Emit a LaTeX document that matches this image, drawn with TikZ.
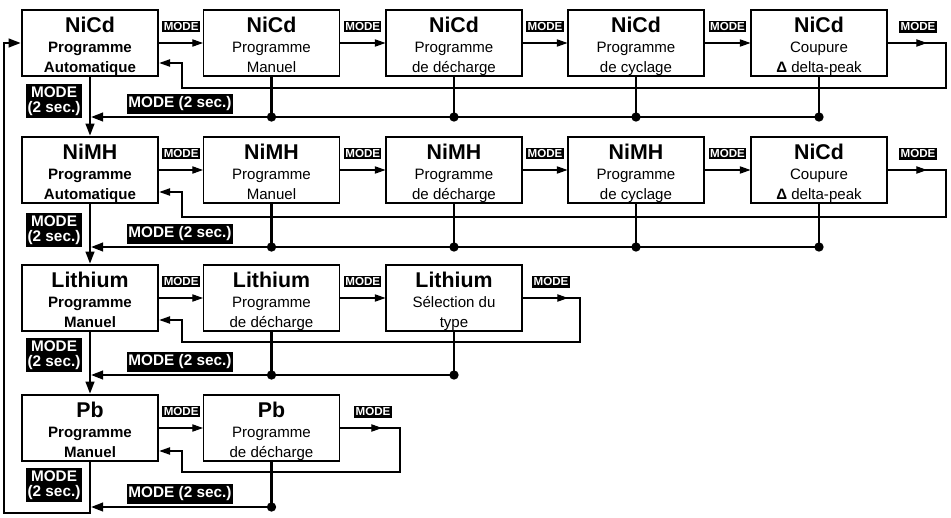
\documentclass[tikz,border=0pt]{standalone}
\usepackage{fontspec}
\setmainfont{Liberation Sans}
\usetikzlibrary{arrows.meta}
\newcommand{\ttlfont}{\fontsize{16}{15}\selectfont\bfseries}
\newcommand{\modebox}[3]{{\ttlfont #1\rule{0pt}{16pt}}\\#2\\#3\vphantom{g}}
\tikzset{
	mbox/.style = {draw, line width=0.8pt, fill=white, minimum width=102pt, minimum height=49.5pt, inner sep=0pt, align=center, font=\fontsize{11.3}{15}\selectfont},
	autobox/.style = {mbox, line width=2pt, font=\fontsize{11.3}{15}\selectfont\bfseries},
	tag/.style = {fill=black, text=white, font=\fontsize{8.7}{8.7}\selectfont\bfseries, inner xsep=1pt, inner ysep=1.2pt},
	bigtag/.style = {fill=black, text=white, font=\fontsize{11.5}{11.5}\selectfont\bfseries, inner xsep=1pt, inner ysep=1.8pt, align=center},
	fbline/.style = {line width=0.8pt},
	arr/.style = {-{Triangle[length=8pt,width=5.5pt]}},
	bus/.style = {line width=1.6pt},
	busarr/.style = {bus, -{Triangle[length=9pt,width=6.5pt]}},
	junc/.style = {circle, fill=black, inner sep=0pt, minimum size=7pt}
}
\begin{document}
\begin{tikzpicture}[x=0.75pt, y=-0.75pt]
	\useasboundingbox (0,0) rectangle (951,518);
	\node[autobox] (n11) at (90,43) {\modebox{NiCd}{Programme}{Automatique}};
	\node[mbox] (n12) at (271.5,43) {\modebox{NiCd}{Programme}{Manuel}};
	\node[mbox] (n13) at (454,43) {\modebox{NiCd}{Programme}{de décharge}};
	\node[mbox] (n14) at (636,43) {\modebox{NiCd}{Programme}{de cyclage}};
	\node[mbox] (n15) at (819,43) {\modebox{NiCd}{Coupure}{{\bfseries Δ} delta-peak}};
	\node[autobox] (n21) at (90,170) {\modebox{NiMH}{Programme}{Automatique}};
	\node[mbox] (n22) at (271.5,170) {\modebox{NiMH}{Programme}{Manuel}};
	\node[mbox] (n23) at (454,170) {\modebox{NiMH}{Programme}{de décharge}};
	\node[mbox] (n24) at (636,170) {\modebox{NiMH}{Programme}{de cyclage}};
	\node[mbox] (n25) at (819,170) {\modebox{NiCd}{Coupure}{{\bfseries Δ} delta-peak}};
	\node[autobox] (n31) at (90,298) {\modebox{Lithium}{Programme}{Manuel}};
	\node[mbox] (n32) at (271.5,298) {\modebox{Lithium}{Programme}{de décharge}};
	\node[mbox] (n33) at (454,298) {\modebox{Lithium}{Sélection du}{type}};
	\node[autobox] (n41) at (90,428) {\modebox{Pb}{Programme}{Manuel}};
	\node[mbox] (n42) at (271.5,428) {\modebox{Pb}{Programme}{de décharge}};

	\draw[fbline, arr] (n11) -- node[tag, above=7.5pt] {MODE} (n12);
	\draw[fbline, arr] (n12) -- node[tag, above=7.5pt] {MODE} (n13);
	\draw[fbline, arr] (n13) -- node[tag, above=7.5pt] {MODE} (n14);
	\draw[fbline, arr] (n14) -- node[tag, above=7.5pt] {MODE} (n15);
	\draw[fbline, arr] (n21) -- node[tag, above=7.5pt] {MODE} (n22);
	\draw[fbline, arr] (n22) -- node[tag, above=7.5pt] {MODE} (n23);
	\draw[fbline, arr] (n23) -- node[tag, above=7.5pt] {MODE} (n24);
	\draw[fbline, arr] (n24) -- node[tag, above=7.5pt] {MODE} (n25);
	\draw[fbline, arr] (n31) -- node[tag, above=7.5pt] {MODE} (n32);
	\draw[fbline, arr] (n32) -- node[tag, above=7.5pt] {MODE} (n33);
	\draw[fbline, arr] (n41) -- node[tag, above=7.5pt] {MODE} (n42);

	\coordinate (o1) at (927,43);
	\coordinate (o2) at (927,170);
	\coordinate (o3) at (568,298);
	\coordinate (o4) at (382,428);
	\coordinate (r1) at (946,88);
	\coordinate (r2) at (946,217);
	\coordinate (r3) at (580,342);
	\coordinate (r4) at (400,472);
	\coordinate (f1) at (182,63);
	\coordinate (f2) at (182,192);
	\coordinate (f3) at (182,320);
	\coordinate (f4) at (182,451);
	\draw[fbline, arr] (n15.east) -| (r1) -| (f1) -- (f1 -| n11.east);
	\draw[fbline, arr] (n25.east) -| (r2) -| (f2) -- (f2 -| n21.east);
	\draw[fbline, arr] (n33.east) -| (r3) -| (f3) -- (f3 -| n31.east);
	\draw[fbline, arr] (n42.east) -| (r4) -| (f4) -- (f4 -| n41.east);
	\draw[fbline, arr] (n15.east) -- (o1);
	\draw[fbline, arr] (n25.east) -- (o2);
	\draw[fbline, arr] (n33.east) -- (o3);
	\draw[fbline, arr] (n42.east) -- (o4);
	\node[tag] (t1) at (918,27) {MODE};
	\node[tag] (t2) at (918,154) {MODE};
	\node[tag] (t3) at (551,282) {MODE};
	\node[tag] (t4) at (373,412) {MODE};

	\coordinate (b1) at (90,117);
	\coordinate (b2) at (90,247);
	\coordinate (b3) at (90,375);
	\coordinate (b4) at (90,507);
	\foreach \n in {n12,n13,n14,n15}
		\draw[bus] (\n) -- (\n |- b1) node[junc] {};
	\foreach \n in {n22,n23,n24,n25}
		\draw[bus] (\n) -- (\n |- b2) node[junc] {};
	\foreach \n in {n32,n33}
		\draw[bus] (\n) -- (\n |- b3) node[junc] {};
	\draw[bus] (n42) -- (n42 |- b4) node[junc] {};
	\draw[busarr, shorten >=0.8pt] (n15 |- b1) -- (b1);
	\draw[busarr, shorten >=0.8pt] (n25 |- b2) -- (b2);
	\draw[busarr, shorten >=0.8pt] (n33 |- b3) -- (b3);
	\draw[busarr, shorten >=0.8pt] (n42 |- b4) -- (b4);
	\node[bigtag] (w1) at (180,104) {MODE (2 sec.)};
	\node[bigtag] (w2) at (180,234) {MODE (2 sec.)};
	\node[bigtag] (w3) at (180,362) {MODE (2 sec.)};
	\node[bigtag] (w4) at (180,494) {MODE (2 sec.)};

	\draw[busarr] (n11) -- (n21);
	\draw[busarr] (n21) -- (n31);
	\draw[busarr] (n31) -- (n41);
	\draw[busarr] (n41) |- (4,513) |- (n11);
	\node[bigtag] (v1) at (54,101) {MODE\\(2 sec.)};
	\node[bigtag] (v2) at (54,230) {MODE\\(2 sec.)};
	\node[bigtag] (v3) at (54,355) {MODE\\(2 sec.)};
	\node[bigtag] (v4) at (54,485) {MODE\\(2 sec.)};
\end{tikzpicture}
\end{document}
